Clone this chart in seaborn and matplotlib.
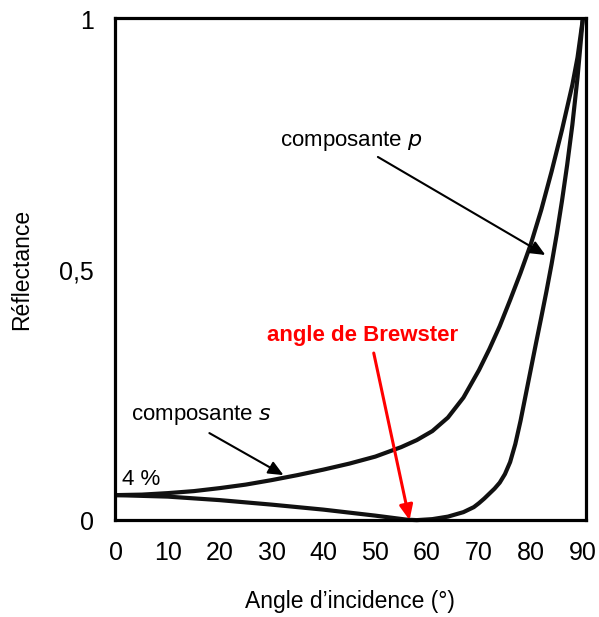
import matplotlib
matplotlib.use("Agg")
import matplotlib.pyplot as plt
import seaborn as sns
import pandas as pd

# Reflectance of an air/glass interface versus angle of incidence
angles_s = [0, 5, 10, 15, 20, 25, 30, 35, 40, 45, 50, 55, 58, 61, 64, 67,
            70, 72, 74, 76, 78, 80, 82, 84, 86, 88, 89, 90]
refl_s = [0.050, 0.051, 0.054, 0.058, 0.064, 0.071, 0.080, 0.090, 0.101,
          0.113, 0.127, 0.146, 0.160, 0.178, 0.205, 0.245, 0.300, 0.342,
          0.388, 0.440, 0.494, 0.552, 0.620, 0.697, 0.780, 0.870, 0.925, 1.0]

angles_p = [0, 10, 20, 30, 40, 45, 50, 53, 56, 58, 61, 64, 67, 69, 70, 71,
            72, 73, 74, 75, 76, 77, 78, 79, 80, 81, 82, 83, 84, 85, 86, 87,
            88, 89, 90]
refl_p = [0.050, 0.047, 0.040, 0.031, 0.021, 0.015, 0.009, 0.005, 0.001,
          0.0, 0.002, 0.007, 0.016, 0.026, 0.034, 0.043, 0.053, 0.063, 0.075,
          0.092, 0.116, 0.152, 0.198, 0.250, 0.302, 0.354, 0.405, 0.457,
          0.512, 0.572, 0.638, 0.710, 0.790, 0.885, 1.0]

x_ticks = [0, 10, 20, 30, 40, 50, 60, 70, 80, 90]
y_ticks = [0, 0.5, 1]
y_tick_labels = ["0", "0,5", "1"]

df = pd.concat([
    pd.DataFrame({"angle": angles_s, "R": refl_s, "comp": "s"}),
    pd.DataFrame({"angle": angles_p, "R": refl_p, "comp": "p"}),
])

sns.set_style("white")
plt.rcParams["font.family"] = ["Liberation Sans", "DejaVu Sans"]
plt.rcParams["text.color"] = "black"
plt.rcParams["axes.labelcolor"] = "black"

fig = plt.figure(figsize=(5.99, 6.17), dpi=100)
ax = fig.add_axes([0.192, 0.157, 0.786, 0.814])

sns.lineplot(data=df, x="angle", y="R", hue="comp", units="comp",
             estimator=None, palette={"s": "#111111", "p": "#111111"},
             linewidth=3.0, legend=False, ax=ax, clip_on=False, sort=False,
             solid_joinstyle="round", solid_capstyle="round")

ax.set_xlim(-0.2, 90.6)
ax.set_ylim(0, 1.004)
ax.set_xticks(x_ticks)
ax.set_yticks(y_ticks)
ax.set_yticklabels(y_tick_labels)
ax.tick_params(axis="both", length=0, labelsize=18, colors="black")
ax.tick_params(axis="x", pad=15)
ax.tick_params(axis="y", pad=15)
for sp in ax.spines.values():
    sp.set_linewidth(2.3)
    sp.set_color("black")

ax.set_xlabel("Angle d’incidence (°)", fontsize=16.5, labelpad=18)
ax.set_ylabel("Réflectance", fontsize=16.5, labelpad=19)

arrow_black = dict(arrowstyle="-|>,head_length=0.9,head_width=0.4",
                   color="black", lw=1.5, shrinkA=0, shrinkB=0)

# Curve annotations
ax.text(31.6, 0.757, "composante $\\mathit{p}$", fontsize=16, ha="left", va="center")
ax.annotate("", xy=(82.8, 0.53), xytext=(50.5, 0.726), arrowprops=arrow_black)
ax.text(2.8, 0.21, "composante $\\mathit{s}$", fontsize=16, ha="left", va="center")
ax.annotate("", xy=(32.3, 0.09), xytext=(18.0, 0.174), arrowprops=arrow_black)
ax.text(1.2, 0.082, "4 %", fontsize=16, ha="left", va="center")

ax.text(47.6, 0.37, "angle de Brewster", fontsize=16, fontweight="bold",
        color="#ff0000", ha="center", va="center")
ax.annotate("", xy=(56.6, 0.0), xytext=(49.7, 0.334),
            arrowprops=dict(arrowstyle="-|>,head_length=0.9,head_width=0.4",
                            color="#ff0000", lw=2.2, shrinkA=0, shrinkB=0))

fig.savefig("out.png", dpi=100)
